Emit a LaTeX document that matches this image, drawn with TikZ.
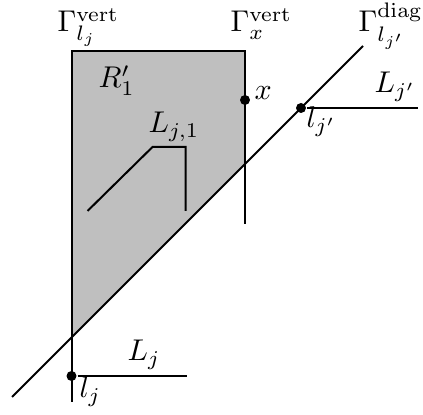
\documentclass[tikz,border=0pt]{standalone}
\begin{document}
\begin{tikzpicture}[x=0.5pt,y=-0.5pt,line width=1pt,
  lbl/.style={anchor=base west,inner sep=0pt,scale=1.5,transform shape},
  dot/.style={circle,fill=black,inner sep=0pt,minimum size=5pt}]
\useasboundingbox (0,0) rectangle (423,415);
\coordinate (tl) at (71.5,51);
\coordinate (tr) at (245,51);
\coordinate (rb) at (245,224);
\coordinate (lb) at (71.5,402);
\coordinate (cr) at (245,164);
\coordinate (cl) at (71.5,337.5);
\coordinate (d1) at (12,397);
\coordinate (d2) at (363,46);
\coordinate (ljpend) at (418,108);
\coordinate (ljend) at (187,376);
\coordinate (a1) at (87.5,211);
\coordinate (a2) at (152.5,147);
\coordinate (a3) at (185.5,147);
\coordinate (a4) at (185.5,211);
\fill[gray!50] (tl) -- (tr) -- (cr) -- (cl) -- cycle;
\draw (lb) -- (tl) -- (tr) -- (rb);
\draw (d1) -- (d2);
\draw (a1) -- (a2) -- (a3) -- (a4);
\node[dot] (x) at (245,100) {};
\node[dot] (ljp) at (301,108) {};
\node[dot] (lj) at (71.5,376) {};
\draw (ljp) -- (ljpend);
\draw (lj) -- (ljend);
\node[lbl] (g1) at (56,32) {$\Gamma^{\mathrm{vert}}_{l_j}$};
\node[lbl] (g2) at (229,32) {$\Gamma^{\mathrm{vert}}_{x}$};
\node[lbl] (g3) at (357,32) {$\Gamma^{\mathrm{diag}}_{l_{j'}}$};
\node[lbl] (r1) at (97,88) {$R'_1$};
\node[lbl] (xl) at (253,100) {$x$};
\node[lbl] (Ljp) at (373,93) {$L_{j'}$};
\node[lbl] (ljpl) at (305,128) {$l_{j'}$};
\node[lbl] (Lj1) at (147,133) {$L_{j,1}$};
\node[lbl] (Lj) at (126,361) {$L_j$};
\node[lbl] (ljl) at (78,398) {$l_j$};
\end{tikzpicture}
\end{document}
